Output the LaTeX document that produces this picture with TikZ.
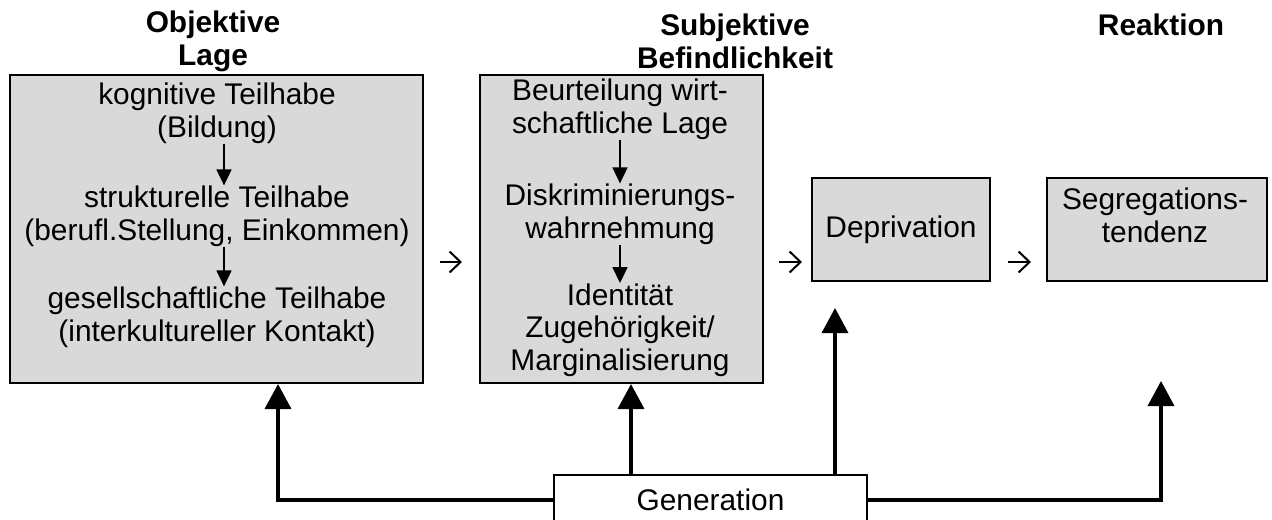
\documentclass[tikz,border=0pt]{standalone}
\usepackage{fontspec}
\setmainfont{Liberation Sans}
\usepackage{tikz}
\usetikzlibrary{arrows.meta, positioning, calc}
\definecolor{boxgray}{RGB}{217, 217, 217}

\begin{document}
\begin{tikzpicture}[
  lagebox/.style={draw, line width=0.04cm, fill=boxgray, inner sep=0pt},
  tx/.style={align=center, inner sep=0pt, font=\fontsize{17}{18.6}\selectfont},
  hdr/.style={align=center, inner sep=0pt, font=\fontsize{17}{18.6}\selectfont\bfseries},
  inarrow/.style={line width=0.035cm, -{Triangle[width=0.3cm, length=0.32cm]}},
  sarrow/.style={line width=0.04cm, -{Straight Barb[width=0.42cm, length=0.22cm]}},
  genline/.style={line width=0.07cm, -{Triangle[width=0.52cm, length=0.5cm]}}
]
  \useasboundingbox (0, 0) rectangle (25.44, 10.38);

  \node[hdr] (hobj) at (4.26, 9.55) {Objektive\\Lage};
  \node[hdr] (hsubj) at (14.7, 9.55) {Subjektive\\Befindlichkeit};
  \node[hdr] (hreak) at (23.22, 9.88) {Reaktion};

  \node[lagebox, minimum width=8.26cm, minimum height=6.16cm] (objekt) at (4.33, 5.8) {};
  \node[lagebox, minimum width=5.66cm, minimum height=6.16cm] (subj) at (12.43, 5.8) {};
  \node[lagebox, minimum width=3.56cm, minimum height=2.06cm, font=\fontsize{17}{18.6}\selectfont] (depriv) at (18.02, 5.79) {Deprivation};
  \node[lagebox, minimum width=4.4cm, minimum height=2.06cm] (segreg) at (23.14, 5.79) {};
  \node[tx] (segtext) at (23.1, 6.08) {Segregations-\\tendenz};

  \node[tx] (k1) at (4.34, 8.12) {kognitive Teilhabe\\(Bildung)};
  \node[tx] (k2) at (4.34, 6.06) {strukturelle Teilhabe\\(berufl.Stellung, Einkommen)};
  \node[tx] (k3) at (4.34, 4.04) {gesellschaftliche Teilhabe\\(interkultureller Kontakt)};
  \draw[inarrow] ([xshift=0.14cm]k1.south) -- ([xshift=0.14cm]k1.south |- k2.north);
  \draw[inarrow] ([xshift=0.14cm]k2.south) -- ([xshift=0.14cm]k2.south |- k3.north);

  \node[tx] (b1) at (12.4, 8.2) {Beurteilung wirt-\\schaftliche Lage};
  \node[tx] (b2) at (12.4, 6.10) {Diskriminierungs-\\wahrnehmung};
  \node[tx] (b3) at (12.4, 3.78) {Identität\\Zugehörigkeit/\\Marginalisierung};
  \draw[inarrow] (b1.south) -- (b1.south |- b2.north);
  \draw[inarrow] (b2.south) -- (b2.south |- b3.north);

  % small arrows between the columns
  \coordinate (row) at (0, 5.14);
  \draw[sarrow, shorten <=0.32cm, shorten >=0.34cm] (objekt.east |- row) -- (subj.west |- row);
  \draw[sarrow, shorten <=0.3cm, shorten >=0.18cm] (subj.east |- row) -- (depriv.west |- row);
  \draw[sarrow, shorten <=0.34cm, shorten >=0.3cm] (depriv.east |- row) -- (segreg.west |- row);

  \node[draw, line width=0.035cm, fill=white, minimum width=6.26cm, minimum height=1.0cm, font=\fontsize{17}{18.6}\selectfont] (gen) at (14.21, 0.38) {Generation};

  \draw[genline] (gen.west) -| ([xshift=1.23cm]objekt.south);
  \draw[genline] ([xshift=-1.59cm]gen.north) -- ([xshift=-1.59cm]gen.north |- subj.south);
  \draw[genline, shorten >=0.52cm] ([xshift=2.49cm]gen.north) -- ([xshift=2.49cm]gen.north |- depriv.south);
  \draw[genline, shorten >=1.98cm] (gen.east) -| ([xshift=0.08cm]segreg.south);
\end{tikzpicture}
\end{document}
